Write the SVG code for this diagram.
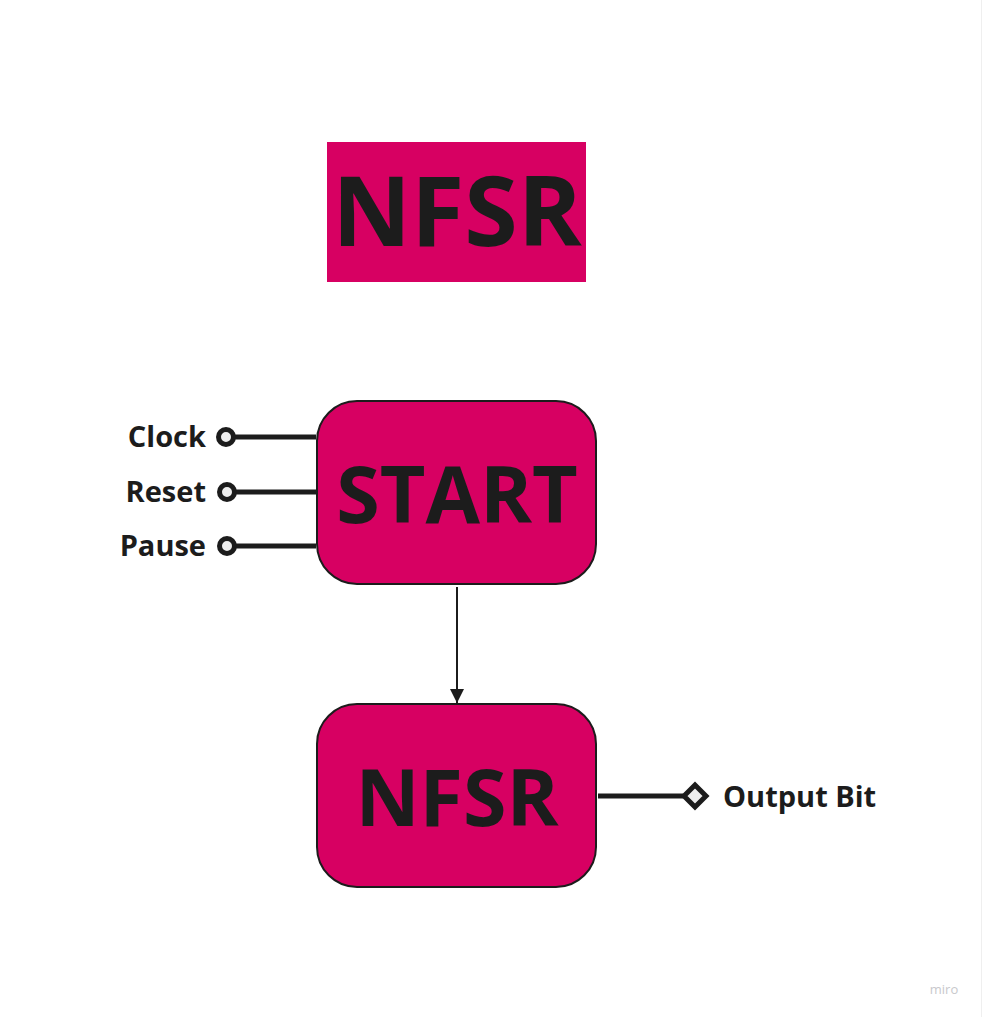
<svg xmlns="http://www.w3.org/2000/svg" width="983" height="1017" viewBox="0 0 983 1017">
<defs>
<style>
.box{fill:#d70062;stroke:#1c1c1c;stroke-width:2}
.big{font-family:"Open Sans","Liberation Sans",sans-serif;font-weight:700;fill:#1c1c1c;text-anchor:middle}
.lbl{font-family:"Open Sans","Liberation Sans",sans-serif;font-weight:700;font-size:29px;fill:#1c1c1c}
.wire{stroke:#1c1c1c;stroke-width:5;fill:none}
.port{fill:#eeeeee;stroke:#1c1c1c;stroke-width:5}
</style>
<marker id="arr" viewBox="0 0 14 14" refX="14" refY="7" markerWidth="14" markerHeight="14" markerUnits="userSpaceOnUse" orient="auto"><path d="M0,0 L14,7 L0,14 z" fill="#1c1c1c"/></marker>
</defs>
<rect x="0" y="0" width="983" height="1017" fill="#ffffff"/>
<line x1="981.5" y1="0" x2="981.5" y2="1017" stroke="#efefef" stroke-width="1"/>
<g id="title">
<rect x="327" y="142" width="259" height="140" fill="#d70062"/>
<text class="big" x="457" y="246" font-size="97">NFSR</text>
</g>
<g id="start">
<rect class="box" x="317" y="401" width="279" height="183" rx="40"/>
<text class="big" x="457" y="523" font-size="79">START</text>
</g>
<g id="nfsr">
<rect class="box" x="317" y="704" width="279" height="183" rx="40"/>
<text class="big" x="457" y="826" font-size="79">NFSR</text>
</g>
<g id="connectors">
<line x1="457" y1="587" x2="457" y2="703" stroke="#1c1c1c" stroke-width="2" marker-end="url(#arr)"/>
<line class="wire" x1="234" y1="437" x2="316" y2="437"/>
<line class="wire" x1="235" y1="492" x2="316" y2="492"/>
<line class="wire" x1="235" y1="546" x2="316" y2="546"/>
<line class="wire" x1="598" y1="796" x2="683" y2="796"/>
</g>
<g id="clock">
<circle class="port" cx="226" cy="437" r="7.5"/>
<text class="lbl" x="206" y="447" text-anchor="end">Clock</text>
</g>
<g id="reset">
<circle class="port" cx="227" cy="492" r="7.5"/>
<text class="lbl" x="206" y="502" text-anchor="end">Reset</text>
</g>
<g id="pause">
<circle class="port" cx="227" cy="546" r="7.5"/>
<text class="lbl" x="206" y="556" text-anchor="end">Pause</text>
</g>
<g id="output">
<path class="port" d="M695,785 L706,796 L695,807 L684,796 z"/>
<text class="lbl" x="723" y="807">Output Bit</text>
</g>
<text x="944" y="994" font-family="'Open Sans','Liberation Sans',sans-serif" font-size="13" fill="#c8c8cc" text-anchor="middle">miro</text>
</svg>
